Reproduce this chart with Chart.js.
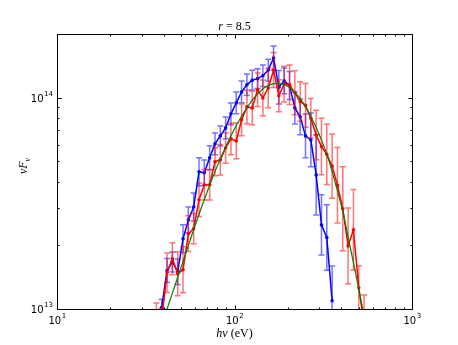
<!DOCTYPE html>
<html>
<head>
<meta charset="utf-8">
<script src="https://cdn.jsdelivr.net/npm/chart.js@4.4.1/dist/chart.umd.min.js"></script>
<style>
  html, body { margin: 0; padding: 0; background: #fff; }
  #wrap { width: 458px; height: 345px; }
</style>
</head>
<body>
<div id="wrap"><canvas id="spectrumChart" width="458" height="345"></canvas></div>
<script>
// bin centres (eV)
const energy = [
  36.31, 38.90, 41.69, 44.67, 47.86, 51.29, 54.95, 58.88, 63.10, 67.61,
  72.44, 77.62, 83.18, 89.13, 95.50, 102.3, 109.6, 117.5, 125.9, 134.9,
  144.5, 154.9, 166.0, 177.8, 190.5, 204.2, 218.8, 234.4, 251.2, 269.2,
  288.4, 309.0, 331.1, 354.8, 380.2, 407.4, 436.5, 467.7, 501.2, 537.0
];

// blue series: nuF_nu and relative error
const blueFlux = [
  null, 1.02e13, 1.52e13, 1.67e13, 1.50e13, 2.15e13, 2.64e13, 3.04e13, 4.46e13, 4.41e13,
  5.19e13, 6.04e13, 6.59e13, 7.19e13, 8.38e13, 9.44e13, 1.064e14, 1.15e14, 1.21e14, 1.23e14,
  1.27e14, 1.35e14, 1.54e14, 1.12e14, 1.20e14, 1.14e14, 8.94e13, 8.11e13, 6.59e13, 6.31e13,
  4.31e13, 2.50e13, 2.18e13, 1.094e13, null, null, null, null, null, null
];
const blueErr = [
  null, 0.09, 0.14, 0.115, 0.15, 0.165, 0.15, 0.165, 0.165, 0.15,
  0.14, 0.125, 0.115, 0.125, 0.125, 0.125, 0.125, 0.125, 0.115, 0.115,
  0.125, 0.125, 0.14, 0.2, 0.15, 0.165, 0.19, 0.215, 0.27, 0.34,
  0.55, 0.39, 0.43, 0.46, null, null, null, null, null, null
];

// red series
const redFlux = [
  9.7e12, 9.0e12, 1.485e13, 1.729e13, 1.468e13, 1.534e13, 2.27e13, 2.40e13, 3.29e13, 3.87e13,
  3.87e13, 4.97e13, 5.08e13, 5.78e13, 6.38e13, 6.24e13, 7.85e13, 9.04e13, 8.94e13, 1.09e14,
  9.97e13, 1.11e14, 1.35e14, 1.02e14, 1.16e14, 1.15e14, 1.054e14, 9.58e13, 9.19e13, 7.99e13,
  6.66e13, 5.87e13, 5.39e13, 4.74e13, 3.85e13, 2.98e13, 1.99e13, 2.37e13, 1.26e13, 8.5e12
];
const redErr = [
  0.1, 0.12, 0.24, 0.19, 0.27, 0.285, 0.215, 0.18, 0.2, 0.18,
  0.18, 0.165, 0.18, 0.18, 0.19, 0.215, 0.19, 0.2, 0.2, 0.2,
  0.215, 0.24, 0.21, 0.19, 0.215, 0.24, 0.27, 0.24, 0.27, 0.24,
  0.31, 0.36, 0.39, 0.42, 0.51, 0.58, 0.51, 0.55, 0.27, 0.37
];

// green model curve
const modelFlux = [
  null, 8.41e12, 1.000e13, 1.189e13, 1.413e13, 1.679e13, 1.995e13, 2.371e13, 2.805e13, 3.296e13,
  3.846e13, 4.467e13, 5.129e13, 5.848e13, 6.607e13, 7.379e13, 8.166e13, 8.954e13, 9.727e13, 1.042e14,
  1.102e14, 1.143e14, 1.164e14, 1.169e14, 1.153e14, 1.117e14, 1.059e14, 9.908e13, 9.078e13, 8.128e13,
  7.244e13, 6.310e13, 5.433e13, 4.467e13, 3.631e13, 2.917e13, 2.188e13, 1.660e13, 1.245e13, 9.23e12
];

const xTicks = [10, 100, 1000];
const yTicks = [1e13, 1e14];

const toPoints = (ys) => energy.map((e, i) => ({ x: e, y: ys[i] }));

// vertical error bars, drawn just under each series
const errorBars = {
  id: "errorBars",
  beforeDatasetDraw(chart, args) {
    const ds = chart.data.datasets[args.index];
    if (!ds.errors) return;
    const { ctx, chartArea: a, scales } = chart;
    ctx.save();
    ctx.beginPath();
    ctx.rect(a.left, a.top, a.right - a.left, a.bottom - a.top);
    ctx.clip();
    ctx.strokeStyle = ds.errorColor;
    ctx.lineWidth = 1.5;
    ds.data.forEach((p, i) => {
      if (p.y == null || ds.errors[i] == null) return;
      const f = 1 + ds.errors[i];
      const px = scales.x.getPixelForValue(p.x);
      const hi = scales.y.getPixelForValue(p.y * f);
      const lo = scales.y.getPixelForValue(p.y / f);
      ctx.beginPath();
      ctx.moveTo(px, hi); ctx.lineTo(px, lo);
      ctx.moveTo(px - 3, hi); ctx.lineTo(px + 3, hi);
      ctx.moveTo(px - 3, lo); ctx.lineTo(px + 3, lo);
      ctx.stroke();
    });
    ctx.restore();
  }
};

// frame, inward ticks and all the labels
const frame = {
  id: "frame",
  afterDraw(chart) {
    const { ctx, chartArea: a, scales: { x, y } } = chart;
    const L = Math.round(a.left) + 0.5, R = Math.round(a.right) + 0.5;
    const T = Math.round(a.top) + 0.5, B = Math.round(a.bottom) + 0.5;
    ctx.save();
    ctx.strokeStyle = "#000";
    ctx.lineWidth = 1;
    ctx.strokeRect(L, T, R - L, B - T);

    ctx.beginPath();
    for (let d = 10; d < 1000; d *= 10) {
      for (let k = 1; k <= 9; k++) {
        const px = Math.round(x.getPixelForValue(k * d)) + 0.5;
        const len = k === 1 ? 4 : 2;
        ctx.moveTo(px, B); ctx.lineTo(px, B - len);
        ctx.moveTo(px, T); ctx.lineTo(px, T + len);
      }
    }
    for (let d = 1e13; d <= 1e14; d *= 10) {
      for (let k = 1; k <= 9; k++) {
        const v = k * d;
        if (v > 2e14) break;
        const py = Math.round(y.getPixelForValue(v)) + 0.5;
        const len = k === 1 ? 4 : 2;
        ctx.moveTo(L, py); ctx.lineTo(L + len, py);
        ctx.moveTo(R, py); ctx.lineTo(R - len, py);
      }
    }
    ctx.stroke();

    ctx.fillStyle = "#000";
    const base = "10px 'DejaVu Sans'";
    const sup = "7px 'DejaVu Sans'";
    const power = (v) => String(Math.round(Math.log10(v)));

    xTicks.forEach((v) => {
      const px = x.getPixelForValue(v);
      ctx.font = base;
      const wb = ctx.measureText("10").width;
      ctx.font = sup;
      const ws = ctx.measureText(power(v)).width;
      const x0 = px - (wb + ws) / 2;
      ctx.textAlign = "left";
      ctx.font = base;
      ctx.fillText("10", x0, B + 14);
      ctx.font = sup;
      ctx.fillText(power(v), x0 + wb + 0.5, B + 8);
    });

    yTicks.forEach((v) => {
      const py = y.getPixelForValue(v);
      ctx.font = sup;
      const ws = ctx.measureText(power(v)).width;
      ctx.font = base;
      const wb = ctx.measureText("10").width;
      const xr = L - 4.5;
      ctx.textAlign = "left";
      ctx.font = base;
      ctx.fillText("10", xr - ws - wb - 0.5, py + 4);
      ctx.font = sup;
      ctx.fillText(power(v), xr - ws, py - 2);
    });

    // title  r = 8.5
    const cx = (a.left + a.right) / 2;
    const it = "italic 12px 'Liberation Serif'";
    const rm = "12px 'Liberation Serif'";
    const parts = [[it, "r"], [rm, " = 8.5"]];
    const drawRow = (row, xc, yb) => {
      let w = 0;
      row.forEach(([f, t]) => { ctx.font = f; w += ctx.measureText(t).width; });
      let xx = xc - w / 2;
      row.forEach(([f, t]) => { ctx.font = f; ctx.fillText(t, xx, yb); xx += ctx.measureText(t).width; });
    };
    ctx.textAlign = "left";
    drawRow(parts, cx, 30);

    // x label  h nu (eV)
    drawRow([[it, "h"], [it, "ν"], [rm, " (eV)"]], cx, 337);

    // y label  nu F_nu
    ctx.save();
    ctx.translate(27, 166);
    ctx.rotate(-Math.PI / 2);
    ctx.font = it;
    const w1 = ctx.measureText("νF").width;
    ctx.font = "italic 8px 'Liberation Serif'";
    const w2 = ctx.measureText("ν").width;
    let xx = -(w1 + w2) / 2;
    ctx.font = it;
    ctx.fillText("νF", xx, 0);
    ctx.font = "italic 8px 'Liberation Serif'";
    ctx.fillText("ν", xx + w1, 3);
    ctx.restore();

    ctx.restore();
  }
};

new Chart(document.getElementById("spectrumChart"), {
  type: "line",
  data: {
    datasets: [
      {
        label: "model",
        data: toPoints(modelFlux),
        borderColor: "#008000",
        borderWidth: 1.2,
        pointRadius: 0,
        fill: false,
        order: 1,
      },
      {
        label: "red",
        data: toPoints(redFlux),
        errors: redErr,
        errorColor: "rgba(255, 0, 0, 0.55)",
        borderColor: "#ff0000",
        backgroundColor: "#ff0000",
        borderWidth: 1.5,
        pointRadius: 1.8,
        pointBorderWidth: 0,
        fill: false,
        order: 2,
      },
      {
        label: "blue",
        data: toPoints(blueFlux),
        errors: blueErr,
        errorColor: "rgba(0, 0, 255, 0.55)",
        borderColor: "#0000ff",
        backgroundColor: "#0000ff",
        borderWidth: 1.5,
        pointRadius: 1.8,
        pointBorderWidth: 0,
        fill: false,
        order: 3,
      },
    ],
  },
  options: {
    responsive: false,
    animation: false,
    devicePixelRatio: 1,
    layout: { padding: { left: 57, right: 46, top: 34, bottom: 36 } },
    plugins: { legend: { display: false }, tooltip: { enabled: false } },
    scales: {
      x: { type: "logarithmic", min: 10, max: 1000, display: false },
      y: { type: "logarithmic", min: 1e13, max: 2e14, display: false },
    },
  },
  plugins: [errorBars, frame],
});
</script>
</body>
</html>
